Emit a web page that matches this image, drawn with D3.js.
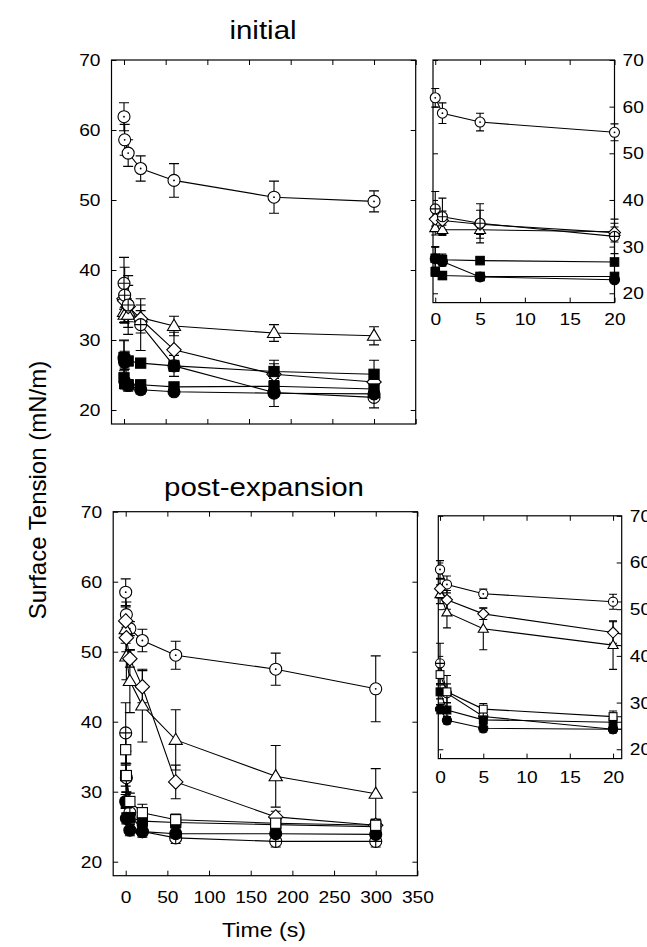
<!DOCTYPE html>
<html><head><meta charset="utf-8">
<script src="https://cdn.jsdelivr.net/npm/d3@7"></script>
<style>
body{margin:0;background:#fff}
svg{display:block}
text{font-family:"Liberation Sans",Arial,sans-serif;fill:#000}
</style>
</head><body>
<svg id="c" width="647" height="947"></svg>
<script>
// ---------- data ----------
const times = [0, 0.8, 5, 20, 60, 180, 300];
const mainXTicks = [0, 50, 100, 150, 200, 250, 300, 350];
const insetXTicks = [0, 5, 10, 15, 20];
const yTicks = [20, 30, 40, 50, 60, 70];
const panelTitles = ["initial", "post-expansion"];
const xAxisTitle = "Time (s)";
const yAxisTitle = "Surface Tension (mN/m)";

// initial
const initDotCircle      = [61.9, 58.6, 56.7, 54.5, 52.8, 50.4, 49.8];
const initDotCircleErr   = [2.0, 2.2, 1.9, 1.8, 2.4, 2.3, 1.5];
const initCrossCircle    = [38.1, 36.4, 35.0, 32.2, 26.3, 22.5, 21.8];
const initCrossCircleErr = [3.7, 4.0, 4.2, 3.7, 1.5, 2.0, 1.5];
const initDiamond        = [35.9, 35.6, 34.8, 33.0, 28.6, 25.1, 24.0];
const initDiamondErr     = [2.0, 2.0, 3.0, 2.0, 2.5, 1.5, 1.5];
const initTriangle       = [34.0, 33.6, 33.6, 33.2, 32.0, 31.0, 30.6];
const initTriangleErr    = [1.5, 1.0, 1.0, 1.0, 1.4, 1.2, 1.3];
const initSquareA        = [27.5, 27.2, 27.0, 26.7, 26.3, 25.5, 25.1];
const initSquareAErr     = [2.5, 1.2, 0.6, 0.6, 0.8, 1.6, 2.0];
const initSquareB        = [24.6, 23.8, 23.6, 23.6, 23.3, 23.4, 23.0];
const initSquareBErr     = [1.0, 0.8, 0.6, 0.6, 0.6, 0.8, 0.8];
const initDisc           = [27.4, 26.8, 23.5, 22.9, 22.6, 22.4, 22.3];
const initDiscErr        = [2.5, 1.0, 0.8, 0.6, 0.5, 0.5, 0.5];

// post-expansion
const postDotCircle      = [58.5, 55.3, 53.3, 51.6, 49.5, 47.5, 44.7];
const postDotCircleErr   = [1.9, 1.8, 1.0, 1.6, 2.0, 2.3, 4.7];
const postDiamond        = [54.4, 52.0, 49.0, 45.0, 31.4, 26.4, 25.2];
const postDiamondErr     = [2.0, 2.0, 1.2, 2.3, 2.4, 0.8, 0.8];
const postTriangle       = [53.2, 49.3, 45.8, 42.3, 37.4, 32.2, 29.7];
const postTriangleErr    = [2.0, 3.3, 4.5, 5.2, 4.3, 4.4, 3.6];
const postCrossCircle    = [38.4, 32.0, 27.0, 24.3, 23.4, 22.9, 22.9];
const postCrossCircleErr = [4.3, 2.0, 1.0, 0.8, 0.8, 0.8, 0.8];
const postOpenSquare     = [36.0, 32.3, 28.6, 27.0, 26.0, 25.5, 25.2];
const postOpenSquareErr  = [2.0, 3.5, 1.2, 1.2, 0.8, 0.8, 0.8];
const postFilledSquare   = [32.3, 28.4, 26.3, 25.8, 25.6, 25.3, 25.0];
const postFilledSquareErr= [1.5, 1.5, 0.8, 0.8, 0.8, 0.8, 0.8];
const postDisc           = [28.6, 26.2, 24.5, 24.3, 24.0, 24.0, 23.9];
const postDiscErr        = [1.0, 0.8, 0.8, 0.6, 0.5, 0.5, 0.5];

// ---------- series tables (drawn in this order; later ones on top) ----------
const initialSeries = [
  {shape:"dotCircle",   v:initDotCircle,   e:initDotCircleErr},
  {shape:"triangle",    v:initTriangle,    e:initTriangleErr},
  {shape:"diamond",     v:initDiamond,     e:initDiamondErr},
  {shape:"crossCircle", v:initCrossCircle, e:initCrossCircleErr},
  {shape:"disc",        v:initDisc,        e:initDiscErr},
  {shape:"squareFill",  v:initSquareB,     e:initSquareBErr},
  {shape:"squareFill",  v:initSquareA,     e:initSquareAErr}
];
const postSeries = [
  {shape:"dotCircle",   v:postDotCircle,   e:postDotCircleErr},
  {shape:"triangle",    v:postTriangle,    e:postTriangleErr},
  {shape:"diamond",     v:postDiamond,     e:postDiamondErr},
  {shape:"crossCircle", v:postCrossCircle, e:postCrossCircleErr},
  {shape:"disc",        v:postDisc,        e:postDiscErr},
  {shape:"squareFill",  v:postFilledSquare,e:postFilledSquareErr},
  {shape:"squareOpen",  v:postOpenSquare,  e:postOpenSquareErr}
];

// ---------- layout ----------
const panels = [
  {series:initialSeries, xd:[-15,350],  xr:[111.5,415.7], yr:[424,60],      xt:mainXTicks,  xLab:false, xPad:12, ySide:"left",  ms:6,   cap:5},
  {series:initialSeries, xd:[-0.25,20], xr:[433,614.5],   yr:[302.6,60],    xt:insetXTicks, xLab:true,  xPad:10, ySide:"right", ms:5,   cap:4},
  {series:postSeries,    xd:[-15,350],  xr:[113.2,417.4], yr:[875.7,511.7], xt:mainXTicks,  xLab:true,  xPad:15, ySide:"left",  ms:6,   cap:5},
  {series:postSeries,    xd:[-0.2,21],  xr:[438.3,621.7], yr:[758.6,515.8], xt:insetXTicks, xLab:true,  xPad:12, ySide:"right", ms:4.6, cap:4}
];
const TICK_FONT = 17, TICK_SX = 1.13;

const svg = d3.select("#c");
const defs = svg.append("defs");

function drawMarker(g, shape, cx, cy, r) {
  const s = g.append("g").attr("transform", `translate(${cx},${cy})`);
  const st = el => el.attr("stroke", "#000").attr("stroke-width", 1.1);
  if (shape === "dotCircle") {
    st(s.append("circle").attr("r", r).attr("fill", "#fff"));
    s.append("circle").attr("r", 0.9).attr("fill", "#000");
  } else if (shape === "crossCircle") {
    st(s.append("circle").attr("r", r).attr("fill", "#fff"));
    st(s.append("path").attr("d", `M${-r},0H${r}M0,${-r}V${r}`).attr("fill", "none"));
  } else if (shape === "disc") {
    st(s.append("circle").attr("r", r).attr("fill", "#000"));
  } else if (shape === "diamond") {
    const d = r * 1.2;
    st(s.append("path").attr("d", `M0,${-d}L${d},0L0,${d}L${-d},0Z`).attr("fill", "#fff"));
  } else if (shape === "triangle") {
    const h = r * 1.85, w = r * 1.1;
    st(s.append("path").attr("d", `M0,${-h*0.6}L${w},${h*0.4}L${-w},${h*0.4}Z`).attr("fill", "#fff"));
  } else if (shape === "squareFill" || shape === "squareOpen") {
    const a = r * 0.85;
    st(s.append("rect").attr("x", -a).attr("y", -a).attr("width", 2*a).attr("height", 2*a)
      .attr("fill", shape === "squareFill" ? "#000" : "#fff"));
  }
}

function stretchText(sel) {
  sel.each(function() {
    const t = d3.select(this);
    const xx = +t.attr("x") || 0;
    t.attr("x", 0).attr("transform", `translate(${xx},0) scale(${TICK_SX},1)`);
  });
}

panels.forEach((p, i) => {
  const x = d3.scaleLinear().domain(p.xd).range(p.xr);
  const y = d3.scaleLinear().domain([18, 70]).range(p.yr);
  const g = svg.append("g");
  const [x0, x1] = p.xr, [yb, yt] = p.yr;

  const cid = "clip" + i;
  defs.append("clipPath").attr("id", cid).append("rect")
    .attr("x", x0).attr("y", yt).attr("width", x1 - x0).attr("height", yb - yt);

  const tk = 5;
  const bottom = g.append("g").attr("transform", `translate(0,${yb})`)
    .call(d3.axisBottom(x).tickValues(p.xt).tickSize(-tk).tickPadding(p.xPad)
      .tickFormat(p.xLab ? d3.format("d") : () => ""));
  const top = g.append("g").attr("transform", `translate(0,${yt})`)
    .call(d3.axisTop(x).tickValues(p.xt).tickSize(-tk).tickFormat(() => ""));
  const left = g.append("g").attr("transform", `translate(${x0},0)`)
    .call(d3.axisLeft(y).tickValues(yTicks).tickSize(-tk).tickPadding(11)
      .tickFormat(p.ySide === "left" ? d3.format("d") : () => ""));
  const right = g.append("g").attr("transform", `translate(${x1},0)`)
    .call(d3.axisRight(y).tickValues(yTicks).tickSize(-tk).tickPadding(8)
      .tickFormat(p.ySide === "right" ? d3.format("d") : () => ""));
  [bottom, top, left, right].forEach(a => {
    a.select(".domain").remove();
    a.selectAll("line").attr("stroke", "#000").attr("stroke-width", 1);
    a.selectAll("text").attr("font-size", TICK_FONT)
      .attr("font-family", '"Liberation Sans",Arial,sans-serif').attr("fill", "#000");
    stretchText(a.selectAll("text"));
  });

  g.append("rect").attr("x", x0).attr("y", yt).attr("width", x1 - x0).attr("height", yb - yt)
    .attr("fill", "none").attr("stroke", "#000").attr("stroke-width", 1.2);

  const xmax = p.xd[1];
  const line = d3.line().x(d => x(d.t)).y(d => y(d.v));
  const data = p.series.map(s => ({shape: s.shape, pts: times.map((t, k) => ({t, v: s.v[k], e: s.e[k]}))}));

  const lg = g.append("g").attr("clip-path", `url(#${cid})`);
  data.forEach(s => {
    lg.append("path").attr("d", line(s.pts)).attr("fill", "none").attr("stroke", "#000").attr("stroke-width", 1.1);
  });
  const eg = g.append("g").attr("stroke", "#000").attr("stroke-width", 1.1);
  data.forEach(s => {
    s.pts.filter(d => d.t <= xmax).forEach(d => {
      const px = x(d.t), ya = y(d.v + d.e), yb2 = y(d.v - d.e);
      eg.append("path").attr("fill", "none")
        .attr("d", `M${px},${ya}V${yb2}M${px - p.cap},${ya}H${px + p.cap}M${px - p.cap},${yb2}H${px + p.cap}`);
    });
  });
  const mg = g.append("g");
  data.forEach(s => {
    s.pts.filter(d => d.t <= xmax).forEach(d => drawMarker(mg, s.shape, x(d.t), y(d.v), p.ms));
  });
});

// titles
function label(txt, x, y, size, sx, rot) {
  svg.append("text").attr("transform", `translate(${x},${y}) rotate(${rot || 0}) scale(${sx},1)`)
    .attr("text-anchor", "middle").attr("font-size", size).text(txt);
}
label(panelTitles[0], 263, 39, 25, 1.18);
label(panelTitles[1], 264, 496, 25, 1.18);
label(xAxisTitle, 264, 937, 21, 1.1);
label(yAxisTitle, 46, 490, 24, 1.0, -90);
</script>
</body></html>
